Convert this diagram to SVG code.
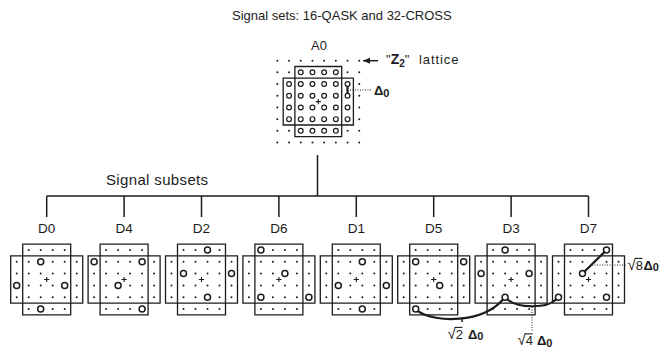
<svg xmlns="http://www.w3.org/2000/svg" xmlns:xlink="http://www.w3.org/1999/xlink" width="663" height="347" viewBox="0 0 663 347">
<style>
text{font-family:"Liberation Sans",Arial,Helvetica,sans-serif;fill:#1c1c1c}
.t13{font-size:13px}
.lbl{font-size:13.5px;text-anchor:middle}
.dl{font-weight:bold}
.box{fill:none;stroke:#1c1c1c;stroke-width:1.3}
.dots{fill:none;stroke:#1c1c1c;stroke-width:2;stroke-linecap:round}
.pl{fill:none;stroke:#1c1c1c;stroke-width:1.1}
.sc{fill:#fff;stroke:#1c1c1c;stroke-width:1.5}
.ac{fill:#fff;stroke:#1c1c1c;stroke-width:1.2}
.ln{fill:none;stroke:#1c1c1c;stroke-width:1.5}
.thick{fill:none;stroke:#1c1c1c;stroke-width:2.2;stroke-linecap:round}
.dot{fill:none;stroke:#1c1c1c;stroke-width:1;stroke-dasharray:1 1.5}
.rad{font-size:15px}
.vin{fill:none;stroke:#1c1c1c;stroke-width:1.1}
</style>
<defs>
<marker id="ah" markerWidth="8" markerHeight="8" refX="7" refY="4" orient="auto" markerUnits="userSpaceOnUse">
<path d="M0,1 L7,4 L0,7 Z" fill="#1c1c1c"/>
</marker>
<g id="sub">
<path class="box" d="M-24,-23.6H24V23.6H-24Z M-24,-23.6V-35.4H24V-23.6 M-24,23.6V35.4H24V23.6 M-24,-23.6H-36V23.6H-24 M24,-23.6H36V23.6H24"/>
<path class="dots" d="M-18,-29.5h0m12,0h0m12,0h0m12,0h0 M-30,-17.7h0m12,0h0m12,0h0m12,0h0m12,0h0m12,0h0 M-30,-5.9h0m12,0h0m12,0h0m12,0h0m12,0h0m12,0h0 M-30,5.9h0m12,0h0m12,0h0m12,0h0m12,0h0m12,0h0 M-30,17.7h0m12,0h0m12,0h0m12,0h0m12,0h0m12,0h0 M-18,29.5h0m12,0h0m12,0h0m12,0h0"/>
<path class="pl" d="M-2.6,0H2.6M0,-2.6V2.6"/>
</g>
<circle id="c" r="3" class="sc"/>
<circle id="ca" r="2.4" class="ac"/>
</defs>

<text class="t13" x="232" y="20">Signal sets: 16-QASK and 32-CROSS</text>

<g id="A0">
<text class="t13" x="319" y="50" text-anchor="middle">A0</text>
<g transform="translate(318.3,101.6)">
<path class="box" d="M-23.4,-23.4H23.4V23.4H-23.4Z M-23.4,-23.4V-35.1H23.4V-23.4 M-23.4,23.4V35.1H23.4V23.4 M-23.4,-23.4H-35.1V23.4H-23.4 M23.4,-23.4H35.1V23.4H23.4"/>
<path class="dots" d="M-40.95,-40.95h0m11.7,0h0m11.7,0h0m11.7,0h0m11.7,0h0m11.7,0h0m11.7,0h0m11.7,0h0 M-40.95,-29.25h0m11.7,0h0m11.7,0h0m11.7,0h0m11.7,0h0m11.7,0h0m11.7,0h0m11.7,0h0 M-40.95,-17.55h0m11.7,0h0m11.7,0h0m11.7,0h0m11.7,0h0m11.7,0h0m11.7,0h0m11.7,0h0 M-40.95,-5.85h0m11.7,0h0m11.7,0h0m11.7,0h0m11.7,0h0m11.7,0h0m11.7,0h0m11.7,0h0 M-40.95,5.85h0m11.7,0h0m11.7,0h0m11.7,0h0m11.7,0h0m11.7,0h0m11.7,0h0m11.7,0h0 M-40.95,17.55h0m11.7,0h0m11.7,0h0m11.7,0h0m11.7,0h0m11.7,0h0m11.7,0h0m11.7,0h0 M-40.95,29.25h0m11.7,0h0m11.7,0h0m11.7,0h0m11.7,0h0m11.7,0h0m11.7,0h0m11.7,0h0 M-40.95,40.95h0m11.7,0h0m11.7,0h0m11.7,0h0m11.7,0h0m11.7,0h0m11.7,0h0m11.7,0h0"/>
<use href="#ca" x="-17.55" y="-29.25"/><use href="#ca" x="-5.85" y="-29.25"/><use href="#ca" x="5.85" y="-29.25"/><use href="#ca" x="17.55" y="-29.25"/>
<use href="#ca" x="-29.25" y="-17.55"/><use href="#ca" x="-17.55" y="-17.55"/><use href="#ca" x="-5.85" y="-17.55"/><use href="#ca" x="5.85" y="-17.55"/><use href="#ca" x="17.55" y="-17.55"/><use href="#ca" x="29.25" y="-17.55"/>
<use href="#ca" x="-29.25" y="-5.85"/><use href="#ca" x="-17.55" y="-5.85"/><use href="#ca" x="-5.85" y="-5.85"/><use href="#ca" x="5.85" y="-5.85"/><use href="#ca" x="17.55" y="-5.85"/><use href="#ca" x="29.25" y="-5.85"/>
<use href="#ca" x="-29.25" y="5.85"/><use href="#ca" x="-17.55" y="5.85"/><use href="#ca" x="-5.85" y="5.85"/><use href="#ca" x="5.85" y="5.85"/><use href="#ca" x="17.55" y="5.85"/><use href="#ca" x="29.25" y="5.85"/>
<use href="#ca" x="-29.25" y="17.55"/><use href="#ca" x="-17.55" y="17.55"/><use href="#ca" x="-5.85" y="17.55"/><use href="#ca" x="5.85" y="17.55"/><use href="#ca" x="17.55" y="17.55"/><use href="#ca" x="29.25" y="17.55"/>
<use href="#ca" x="-17.55" y="29.25"/><use href="#ca" x="-5.85" y="29.25"/><use href="#ca" x="5.85" y="29.25"/><use href="#ca" x="17.55" y="29.25"/>
<path class="pl" d="M-2.6,0H2.6M0,-2.6V2.6"/>
</g>
<line class="thick" x1="347.5" y1="87" x2="347.5" y2="93" stroke-width="2"/>
<line class="dot" x1="350" y1="90" x2="372" y2="90"/>
<text class="dl" x="374" y="95" font-size="13">Δ<tspan font-size="11" dy="1.5">0</tspan></text>
<line class="ln" x1="378" y1="60.7" x2="363" y2="60.7" stroke-width="1.3" marker-end="url(#ah)"/>
<text class="t13" x="386" y="64">"<tspan font-weight="bold" font-size="14">Z</tspan><tspan font-size="10" font-weight="bold" dy="3">2</tspan><tspan dy="-3">"</tspan></text>
<text class="t13" x="419" y="64" letter-spacing="0.9">lattice</text>
</g>

<text x="106" y="185" font-size="15" letter-spacing="0.35">Signal subsets</text>

<g id="connectors">
<path class="ln" d="M317.5,155V196 M46.7,196H588.5 M46.7,196V217 M124.1,196V217 M201.5,196V217 M278.9,196V217 M356.3,196V217 M433.7,196V217 M511.1,196V217 M588.5,196V217"/>
</g>

<g id="D0">
<text class="lbl" x="46.7" y="233">D0</text>
<g transform="translate(46.7,279.5)"><use href="#sub"/>
<use href="#c" x="-6" y="-17.7"/><use href="#c" x="-30" y="5.9"/><use href="#c" x="18" y="5.9"/><use href="#c" x="-6" y="29.5"/></g>
</g>
<g id="D4">
<text class="lbl" x="124.1" y="233">D4</text>
<g transform="translate(124.1,279.5)"><use href="#sub"/>
<use href="#c" x="-30" y="-17.7"/><use href="#c" x="18" y="-17.7"/><use href="#c" x="-6" y="5.9"/><use href="#c" x="18" y="29.5"/></g>
</g>
<g id="D2">
<text class="lbl" x="201.5" y="233">D2</text>
<g transform="translate(201.5,279.5)"><use href="#sub"/>
<use href="#c" x="6" y="-29.5"/><use href="#c" x="-18" y="-5.9"/><use href="#c" x="30" y="-5.9"/><use href="#c" x="6" y="17.7"/></g>
</g>
<g id="D6">
<text class="lbl" x="278.9" y="233">D6</text>
<g transform="translate(278.9,279.5)"><use href="#sub"/>
<use href="#c" x="-18" y="-29.5"/><use href="#c" x="6" y="-5.9"/><use href="#c" x="-18" y="17.7"/><use href="#c" x="30" y="17.7"/></g>
</g>
<g id="D1">
<text class="lbl" x="356.3" y="233">D1</text>
<g transform="translate(356.3,279.5)"><use href="#sub"/>
<use href="#c" x="6" y="-17.7"/><use href="#c" x="-18" y="5.9"/><use href="#c" x="30" y="5.9"/><use href="#c" x="6" y="29.5"/></g>
</g>
<g id="D5">
<text class="lbl" x="433.7" y="233">D5</text>
<g transform="translate(433.7,279.5)"><use href="#sub"/>
<use href="#c" x="-18" y="-17.7"/><use href="#c" x="30" y="-17.7"/><use href="#c" x="6" y="5.9"/><use href="#c" x="-18" y="29.5"/></g>
</g>
<g id="D3">
<text class="lbl" x="511.1" y="233">D3</text>
<g transform="translate(511.1,279.5)"><use href="#sub"/>
<use href="#c" x="-6" y="-29.5"/><use href="#c" x="-30" y="-5.9"/><use href="#c" x="18" y="-5.9"/><use href="#c" x="-6" y="17.7"/></g>
</g>
<g id="D7">
<text class="lbl" x="588.5" y="233">D7</text>
<g transform="translate(588.5,279.5)"><use href="#sub"/>
<use href="#c" x="18" y="-29.5"/><use href="#c" x="-6" y="-5.9"/><use href="#c" x="-30" y="17.7"/><use href="#c" x="18" y="17.7"/></g>
</g>

<g id="distances">
<path class="thick" d="M584.6,271.5 L604.4,252.1"/>
<line class="dot" x1="592" y1="265" x2="627" y2="265"/>
<text x="627.5" y="269.5"><tspan class="rad">√</tspan><tspan class="t13">8</tspan></text>
<line class="vin" x1="634.8" y1="258.4" x2="642.5" y2="258.4"/>
<text class="dl" x="643.5" y="269.5" font-size="13">Δ<tspan font-size="11" dy="1.5">0</tspan></text>

<path class="thick" d="M418.5,311.5 C436,323 482,323 502.5,300"/>
<line class="ln" x1="462" y1="318" x2="462" y2="322" stroke-width="1"/>
<text x="447.5" y="338.5"><tspan class="rad">√</tspan><tspan class="t13">2</tspan></text>
<line class="vin" x1="454.8" y1="327.4" x2="462.5" y2="327.4"/>
<text class="dl" x="468" y="338.5" font-size="13">Δ<tspan font-size="11" dy="1.5">0</tspan></text>

<path class="thick" d="M507.5,299.5 C518,308 546,309 556,299.5"/>
<line class="dot" x1="532" y1="307" x2="532" y2="331"/>
<text x="517.5" y="345"><tspan class="rad">√</tspan><tspan class="t13">4</tspan></text>
<line class="vin" x1="524.8" y1="333.9" x2="532.5" y2="333.9"/>
<text class="dl" x="537" y="345" font-size="13">Δ<tspan font-size="11" dy="1.5">0</tspan></text>
</g>
</svg>
